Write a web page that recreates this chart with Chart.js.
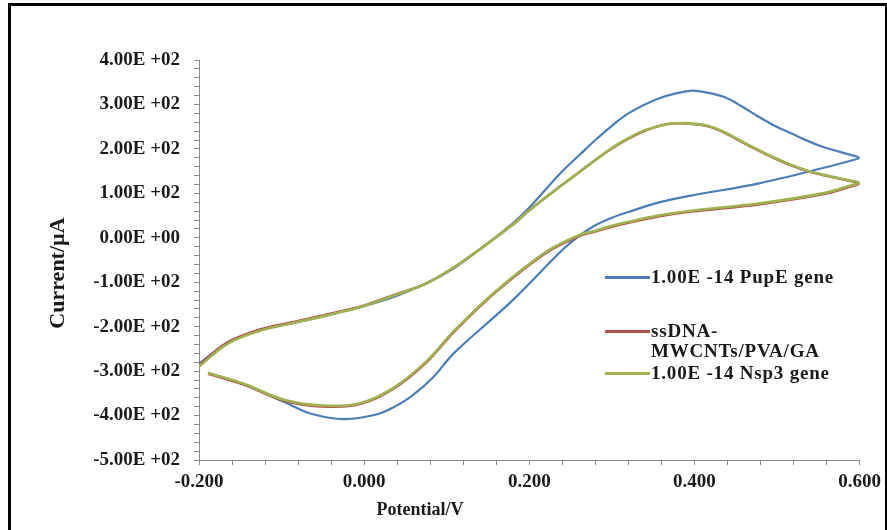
<!DOCTYPE html>
<html>
<head>
<meta charset="utf-8">
<script src="https://cdn.jsdelivr.net/npm/chart.js@4/dist/chart.umd.min.js"></script>
<style>
  html, body { margin: 0; padding: 0; background: #ffffff; }
  #wrap { position: relative; width: 887px; height: 530px; overflow: hidden; background: #fff; }
  #c { position: absolute; left: 0; top: 0; }
  #frame { position: absolute; left: 8px; top: 3px; width: 874px; height: 560px; border: 3px solid #000; pointer-events: none; }
  .t { position: absolute; font-family: 'Liberation Serif', 'Times New Roman', serif; font-weight: bold; color: #1a1a1a; white-space: nowrap; }
  #xtitle { font-size: 18px; left: 420px; top: 509px; transform: translate(-50%, -50%); }
  #ytitle { font-size: 22px; left: 57px; top: 273px; transform: translate(-50%, -50%) rotate(-90deg); }
  .leg { position: absolute; font-family: 'Liberation Serif', 'Times New Roman', serif; font-weight: bold; font-size: 19px; letter-spacing: 0.8px; color: #1a1a1a; line-height: 20px; white-space: nowrap; }
  .sw { position: absolute; height: 3px; width: 45px; }
</style>
</head>
<body>
<div id="wrap">
  <canvas id="c" width="887" height="530"></canvas>
  <div id="frame"></div>
  <div id="xtitle" class="t"></div>
  <div id="ytitle" class="t"></div>
  <div id="legend"></div>
</div>
<script>
// ---- data ----
const seriesNames = ['1.00E -14 PupE gene', 'ssDNA-\nMWCNTs/PVA/GA', '1.00E -14 Nsp3 gene'];
const seriesColors = ['#4a7ebb', '#b5524e', '#9fb450'];

// 1.00E-14 PupE gene: forward scan (-0.2 -> 0.6) then reverse scan (0.6 -> -0.19)
const pupeV = [-0.200,-0.165,-0.124,-0.084,-0.044,-0.003,0.036,0.076,0.109,0.140,0.179,0.200,0.239,0.260,0.280,0.300,0.320,0.356,0.396,0.417,0.437,0.457,0.477,0.497,0.517,0.537,0.558,0.590,0.600,0.590,0.558,0.477,0.396,0.356,0.320,0.300,0.280,0.260,0.239,0.179,0.109,0.083,0.057,0.036,0.016,-0.024,-0.064,-0.096,-0.145,-0.189];
const pupeI = [-283,-236,-207,-191,-174,-155,-133,-102,-68,-26,31,68,148,185,220,252,280,313,331,326,316,296,273,252,235,218,203,186,180,174,158,122,95,79,58,45,28,4,-29,-142,-259,-315,-357,-381,-397,-408,-396,-370,-330,-304];

// ssDNA-MWCNTs/PVA/GA
const blankV = [-0.200,-0.165,-0.124,-0.084,-0.044,-0.003,0.039,0.076,0.118,0.179,0.200,0.239,0.260,0.280,0.300,0.320,0.340,0.368,0.389,0.416,0.436,0.456,0.476,0.497,0.517,0.537,0.558,0.590,0.600,0.590,0.558,0.477,0.396,0.356,0.320,0.300,0.280,0.260,0.220,0.160,0.109,0.076,0.036,-0.003,-0.044,-0.096,-0.145,-0.189];
const blankI = [-287,-235,-205,-189,-172,-154,-127,-102,-55,28,62,118,147,175,201,223,241,256,257,251,237,217,198,179,163,150,140,127,122,116,99,75,59,48,34,25,14,4,-34,-121,-211,-279,-339,-373,-380,-367,-331,-306];

// 1.00E-14 Nsp3 gene
const nsp3V = [-0.200,-0.165,-0.124,-0.084,-0.044,-0.003,0.039,0.076,0.118,0.179,0.200,0.239,0.260,0.280,0.300,0.320,0.340,0.368,0.389,0.416,0.436,0.456,0.476,0.497,0.517,0.537,0.558,0.590,0.600,0.590,0.558,0.477,0.396,0.356,0.320,0.300,0.280,0.260,0.220,0.160,0.109,0.076,0.036,-0.003,-0.044,-0.096,-0.145,-0.189];
const nsp3I = [-290,-238,-208,-191,-174,-155,-128,-102,-55,28,62,118,147,175,202,224,242,256,258,252,238,218,199,180,164,151,141,128,124,118,101,77,61,50,36,27,16,6,-32,-119,-209,-277,-337,-371,-378,-365,-329,-304];

const yTickValues = [-500,-400,-300,-200,-100,0,100,200,300,400];
const yTickLabels = ['-5.00E +02','-4.00E +02','-3.00E +02','-2.00E +02','-1.00E +02','0.00E +00','1.00E +02','2.00E +02','3.00E +02','4.00E +02'];
const xTickValues = [-0.2, 0, 0.2, 0.4, 0.6];
const xTickLabels = ['-0.200','0.000','0.200','0.400','0.600'];
const xTitle = 'Potential/V';
const yTitle = 'Current/\u00b5A';

// ---- build ----
function pts(xs, ys) { return xs.map((x, i) => ({ x: x, y: ys[i] })); }

document.getElementById('xtitle').textContent = xTitle;
document.getElementById('ytitle').textContent = yTitle;

const axisColor = '#8a8a8a';
const tickFont = { family: "'Liberation Serif', 'Times New Roman', serif", size: 19, weight: 'bold' };

new Chart(document.getElementById('c'), {
  type: 'scatter',
  data: {
    datasets: [
      { label: seriesNames[0], data: pts(pupeV, pupeI), borderColor: seriesColors[0], borderWidth: 2.2, order: 3 },
      { label: seriesNames[1], data: pts(blankV, blankI), borderColor: seriesColors[1], borderWidth: 2.6, order: 2 },
      { label: seriesNames[2], data: pts(nsp3V, nsp3I), borderColor: seriesColors[2], borderWidth: 2.6, order: 1 }
    ].map(d => Object.assign(d, { showLine: true, pointRadius: 0, pointHoverRadius: 0, tension: 0.35, fill: false }))
  },
  options: {
    responsive: false,
    animation: false,
    events: [],
    layout: { padding: { left: 0, right: 25, top: 60, bottom: 0 } },
    plugins: { legend: { display: false }, tooltip: { enabled: false }, title: { display: false } },
    scales: {
      x: {
        type: 'linear', min: -0.2, max: 0.6,
        afterFit: s => { s.height = 70; },
        border: { display: true, color: axisColor, width: 1 },
        grid: { display: true, drawOnChartArea: false, drawTicks: true, tickLength: 5, color: axisColor },
        ticks: {
          stepSize: 0.04, autoSkip: false, maxRotation: 0, padding: 6, color: '#1a1a1a', font: tickFont,
          callback: v => { const i = xTickValues.findIndex(t => Math.abs(t - v) < 1e-6); return i >= 0 ? xTickLabels[i] : ''; }
        }
      },
      y: {
        type: 'linear', min: -500, max: 400,
        afterFit: s => { s.width = 199; },
        border: { display: true, color: axisColor, width: 1 },
        grid: { display: true, drawOnChartArea: false, drawTicks: true, tickLength: 5, color: axisColor },
        ticks: {
          stepSize: 20, autoSkip: false, padding: 14, color: '#1a1a1a', font: tickFont,
          callback: v => { const i = yTickValues.indexOf(v); return i >= 0 ? yTickLabels[i] : ''; }
        }
      }
    }
  }
});

// ---- legend (HTML text) ----
const legendPos = [ { ly: 277, ty: [277] }, { ly: 331, ty: [331, 351] }, { ly: 373, ty: [373] } ];
const leg = document.getElementById('legend');
seriesNames.forEach((name, i) => {
  const sw = document.createElement('div');
  sw.className = 'sw';
  sw.style.left = '605px';
  sw.style.top = (legendPos[i].ly - 1.5) + 'px';
  sw.style.background = seriesColors[i];
  leg.appendChild(sw);
  name.split('\n').forEach((line, j) => {
    const t = document.createElement('div');
    t.className = 'leg';
    t.textContent = line;
    t.style.left = '651px';
    t.style.top = (legendPos[i].ty[j] - 10) + 'px';
    leg.appendChild(t);
  });
});
</script>
</body>
</html>
